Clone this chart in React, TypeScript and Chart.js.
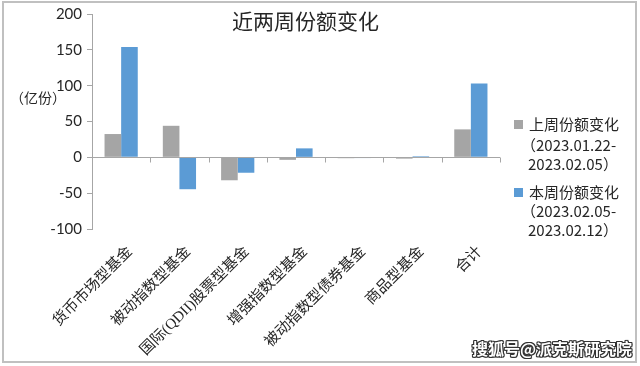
import React, { useEffect, useRef } from "react";
import { Chart, registerables } from "chart.js";

Chart.register(...registerables);

const categories = [
  "货币市场型基金",
  "被动指数型基金",
  "国际(QDII)股票型基金",
  "增强指数型基金",
  "被动指数型债券基金",
  "商品型基金",
  "合计",
];
const prevWeek = [32.5, 44, -32, -3.5, -1.2, -1.8, 39];
const thisWeek = [154, -44.5, -21.5, 12.5, -1, 1.5, 103];
const yTicks = [200, 150, 100, 50, 0, -50, -100];
const titleText = "近两周份额变化";
const unitText = "（亿份）";
const legendPrev = ["上周份额变化", "（2023.01.22-", "2023.02.05）"];
const legendThis = ["本周份额变化", "（2023.02.05-", "2023.02.12）"];
const watermark = "搜狐号@派克斯研究院";

const GRAY = "#a5a5a5";
const BLUE = "#5b9bd5";
const AXIS = "#a6a6a6";

const zeroLinePlugin = {
  id: "zeroLine",
  afterDatasetsDraw(chart: any) {
    const { ctx, scales } = chart;
    const x = scales.x;
    const y = scales.y;
    const y0 = Math.round(y.getPixelForValue(0)) + 0.5;
    ctx.save();
    ctx.strokeStyle = AXIS;
    ctx.lineWidth = 1;
    ctx.beginPath();
    ctx.moveTo(x.left, y0);
    ctx.lineTo(x.right, y0);
    const n = categories.length;
    const w = (x.right - x.left) / n;
    for (let i = 1; i <= n; i++) {
      const px = Math.round(x.left + i * w) + 0.5;
      ctx.moveTo(px, y0);
      ctx.lineTo(px, y0 + 5);
    }
    ctx.stroke();
    ctx.restore();
  },
};

export default function App() {
  const ref = useRef<HTMLCanvasElement | null>(null);

  useEffect(() => {
    document.body.style.margin = "0";
    if (!ref.current) return;
    const chart = new Chart(ref.current, {
      type: "bar",
      data: {
        labels: categories,
        datasets: [
          {
            label: legendPrev.join(""),
            data: prevWeek,
            backgroundColor: GRAY,
            categoryPercentage: 0.57,
            barPercentage: 1,
          },
          {
            label: legendThis.join(""),
            data: thisWeek,
            backgroundColor: BLUE,
            categoryPercentage: 0.57,
            barPercentage: 1,
          },
        ],
      },
      options: {
        responsive: false,
        animation: false,
        layout: { padding: { top: 14, right: 140, bottom: 0, left: 0 } },
        plugins: {
          legend: { display: false },
          title: { display: false },
          tooltip: { enabled: false },
        },
        scales: {
          x: {
            grid: { display: false },
            border: { display: false },
            ticks: {
              autoSkip: false,
              maxRotation: 45,
              minRotation: 45,
              labelOffset: 9,
              padding: 6,
              color: "#262626",
              font: {
                family: '"Liberation Serif", "Noto Sans CJK SC", serif',
                size: 15,
              },
            },
            afterFit(scale: any) {
              scale.height = 137;
            },
          },
          y: {
            min: -100,
            max: 200,
            afterBuildTicks(scale: any) {
              scale.ticks = yTicks.map((v) => ({ value: v }));
            },
            grid: {
              drawOnChartArea: false,
              drawTicks: true,
              tickLength: 5,
              color: AXIS,
            },
            border: { display: true, color: AXIS },
            ticks: {
              padding: 5,
              color: "#262626",
              font: { family: "Lato, 'Noto Sans', sans-serif", size: 15 },
            },
            afterFit(scale: any) {
              scale.width = 92;
            },
          },
        },
      },
      plugins: [zeroLinePlugin],
    });
    return () => chart.destroy();
  }, []);

  const legendLine = (text: string, top: number, left: number) => (
    <div
      style={{
        position: "absolute",
        left,
        top,
        fontSize: 15,
        lineHeight: "19px",
        color: "#262626",
        fontFamily: '"Noto Sans CJK SC", sans-serif',
        whiteSpace: "nowrap",
      }}
    >
      {text}
    </div>
  );

  return (
    <div
      style={{
        position: "absolute",
        left: 0,
        top: 0,
        width: 640,
        height: 366,
        background: "#fff",
        overflow: "hidden",
      }}
    >
      <canvas ref={ref} width={640} height={366} style={{ position: "absolute", left: 0, top: 0 }} />
      <div
        style={{
          position: "absolute",
          left: 2,
          top: 1,
          width: 635,
          height: 362,
          border: "2px solid #c0c0c0",
          boxSizing: "border-box",
          pointerEvents: "none",
        }}
      />
      <div
        style={{
          position: "absolute",
          left: 232,
          top: 8,
          fontSize: 21,
          lineHeight: "28px",
          color: "#262626",
          fontFamily: '"Liberation Serif", "Noto Sans CJK SC", serif',
          whiteSpace: "nowrap",
        }}
      >
        {titleText}
      </div>
      <div
        style={{
          position: "absolute",
          left: 10,
          top: 87,
          fontSize: 14,
          lineHeight: "20px",
          color: "#262626",
          fontFamily: '"Noto Sans CJK SC", sans-serif',
          whiteSpace: "nowrap",
        }}
      >
        {unitText}
      </div>
      <div style={{ position: "absolute", left: 514, top: 120, width: 9, height: 9, background: GRAY }} />
      {legendLine(legendPrev[0], 114, 529)}
      {legendLine(legendPrev[1], 135, 521)}
      {legendLine(legendPrev[2], 154, 528)}
      <div style={{ position: "absolute", left: 514, top: 188, width: 9, height: 9, background: BLUE }} />
      {legendLine(legendThis[0], 182, 529)}
      {legendLine(legendThis[1], 201, 521)}
      {legendLine(legendThis[2], 220, 528)}
      <div
        style={{
          position: "absolute",
          left: 472,
          top: 337,
          fontSize: 16,
          lineHeight: "22px",
          fontWeight: "bold",
          color: "#fff",
          fontFamily: '"Noto Sans CJK SC", sans-serif',
          whiteSpace: "nowrap",
          textShadow:
            "1px 1px 0 #333, -1px -1px 0 #333, 1px -1px 0 #333, -1px 1px 0 #333, 1px 0 0 #333, -1px 0 0 #333, 0 1px 0 #333, 0 -1px 0 #333",
        }}
      >
        {watermark}
      </div>
    </div>
  );
}
